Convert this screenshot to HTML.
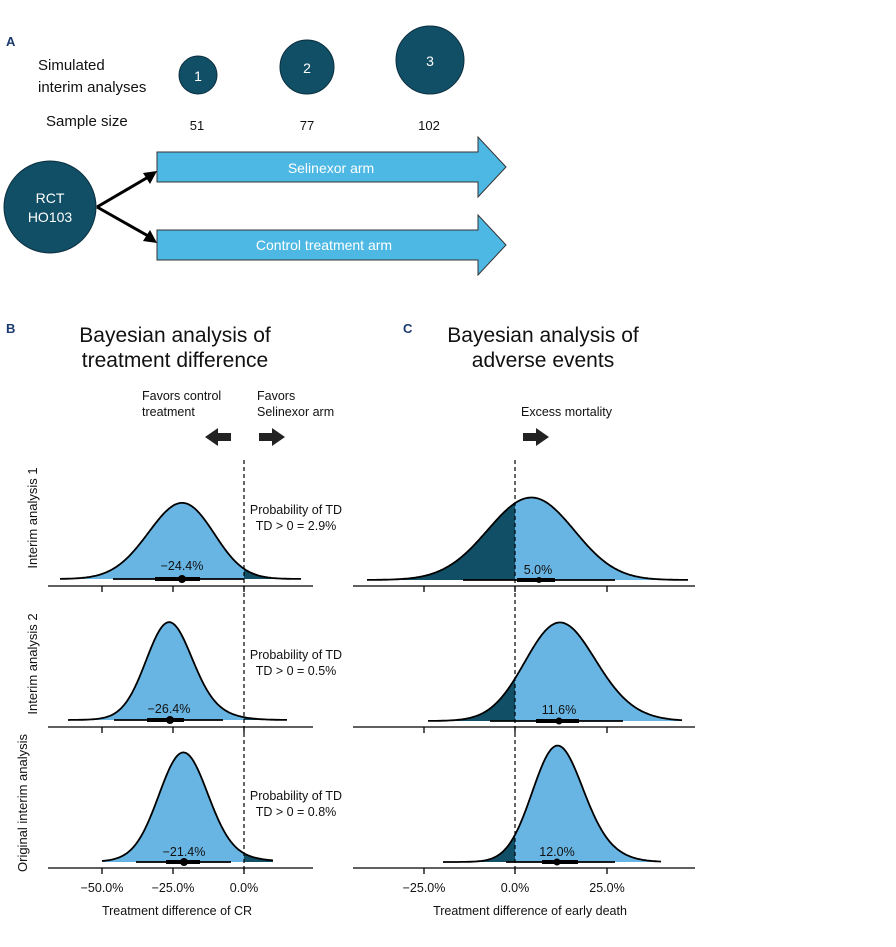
<!DOCTYPE html>
<html><head><meta charset="utf-8">
<style>
html,body{margin:0;padding:0;background:#fff;}
body{width:896px;height:942px;overflow:hidden;font-family:"Liberation Sans",sans-serif;}
</style></head>
<body>
<svg id="s" width="896" height="942" viewBox="0 0 896 942" xmlns="http://www.w3.org/2000/svg" font-family="Liberation Sans, sans-serif">
<!-- Panel A -->
<text x="6" y="46" font-size="13" font-weight="bold" fill="#1a3a6e">A</text>
<text x="38" y="70" font-size="15" fill="#111">Simulated</text>
<text x="38" y="92" font-size="15" fill="#111">interim analyses</text>
<text x="46" y="126" font-size="15" fill="#111">Sample size</text>
<circle cx="198" cy="75" r="19" fill="#114f66" stroke="#0b2f3f" stroke-width="1"/>
<text x="198" y="81" font-size="14" fill="#fff" text-anchor="middle">1</text>
<circle cx="307" cy="67" r="27" fill="#114f66" stroke="#0b2f3f" stroke-width="1"/>
<text x="307" y="73" font-size="14" fill="#fff" text-anchor="middle">2</text>
<circle cx="430" cy="60" r="34" fill="#114f66" stroke="#0b2f3f" stroke-width="1"/>
<text x="430" y="66" font-size="14" fill="#fff" text-anchor="middle">3</text>
<text x="197" y="130" font-size="13" fill="#111" text-anchor="middle">51</text>
<text x="307" y="130" font-size="13" fill="#111" text-anchor="middle">77</text>
<text x="429" y="130" font-size="13" fill="#111" text-anchor="middle">102</text>
<path d="M157,152 H478 V137 L506,167 L478,197 V182 H157 Z" fill="#4db8e4" stroke="#333" stroke-width="1"/>
<text x="331" y="173" font-size="14" fill="#fff" text-anchor="middle">Selinexor arm</text>
<path d="M157,230 H478 V215 L506,245 L478,275 V260 H157 Z" fill="#4db8e4" stroke="#333" stroke-width="1"/>
<text x="324" y="250" font-size="14" fill="#fff" text-anchor="middle">Control treatment arm</text>
<line x1="97" y1="207" x2="150" y2="176" stroke="#000" stroke-width="3"/>
<polygon points="157,171 143,173 150,184" fill="#000"/>
<line x1="97" y1="207" x2="150" y2="237" stroke="#000" stroke-width="3"/>
<polygon points="157,243 150,230 143,241" fill="#000"/>
<circle cx="50" cy="207" r="46" fill="#114f66" stroke="#0b2f3f" stroke-width="1"/>
<text x="50" y="203" font-size="14" fill="#fff" text-anchor="middle">RCT</text>
<text x="50" y="222" font-size="14" fill="#fff" text-anchor="middle">HO103</text>

<!-- Panel B header -->
<text x="6" y="333" font-size="13" font-weight="bold" fill="#1a3a6e">B</text>
<text x="175" y="342" font-size="21" fill="#111" text-anchor="middle">Bayesian analysis of</text>
<text x="175" y="367" font-size="21" fill="#111" text-anchor="middle">treatment difference</text>
<text x="142" y="400" font-size="12.5" fill="#111">Favors control</text>
<text x="142" y="416" font-size="12.5" fill="#111">treatment</text>
<text x="257" y="400" font-size="12.5" fill="#111">Favors</text>
<text x="257" y="416" font-size="12.5" fill="#111">Selinexor arm</text>
<path d="M231,433 H218 V428 L205,437 L218,446 V441 H231 Z" fill="#222"/>
<path d="M259,433 H272 V428 L285,437 L272,446 V441 H259 Z" fill="#222"/>

<!-- Panel C header -->
<text x="403" y="333" font-size="13" font-weight="bold" fill="#1a3a6e">C</text>
<text x="543" y="342" font-size="21" fill="#111" text-anchor="middle">Bayesian analysis of</text>
<text x="543" y="367" font-size="21" fill="#111" text-anchor="middle">adverse events</text>
<text x="521" y="416" font-size="12.5" fill="#111">Excess mortality</text>
<path d="M523,433 H536 V428 L549,437 L536,446 V441 H523 Z" fill="#222"/>

<!-- row labels -->
<text transform="translate(37,518) rotate(-90)" font-size="13" fill="#111" text-anchor="middle">Interim analysis 1</text>
<text transform="translate(37,664) rotate(-90)" font-size="13" fill="#111" text-anchor="middle">Interim analysis 2</text>
<text transform="translate(27,803) rotate(-90)" font-size="13" fill="#111" text-anchor="middle">Original interim analysis</text>

<defs>
<clipPath id="cbR"><rect x="244" y="0" width="200" height="942"/></clipPath>
<clipPath id="ccL"><rect x="300" y="0" width="215" height="942"/></clipPath>
</defs>
<g id="dens"></g>

<!-- axes B -->
<g stroke="#000" stroke-width="1.3">
<line x1="48" y1="586" x2="313" y2="586"/><line x1="48" y1="727" x2="313" y2="727"/><line x1="48" y1="868" x2="313" y2="868"/>
<line x1="102" y1="586" x2="102" y2="592"/><line x1="173" y1="586" x2="173" y2="592"/><line x1="244" y1="586" x2="244" y2="592"/>
<line x1="102" y1="727" x2="102" y2="733"/><line x1="173" y1="727" x2="173" y2="733"/><line x1="244" y1="727" x2="244" y2="733"/>
<line x1="102" y1="868" x2="102" y2="874"/><line x1="173" y1="868" x2="173" y2="874"/><line x1="244" y1="868" x2="244" y2="874"/>
<line x1="353" y1="586" x2="695" y2="586"/><line x1="353" y1="727" x2="695" y2="727"/><line x1="353" y1="868" x2="695" y2="868"/>
<line x1="424" y1="586" x2="424" y2="592"/><line x1="515" y1="586" x2="515" y2="592"/><line x1="607" y1="586" x2="607" y2="592"/>
<line x1="424" y1="727" x2="424" y2="733"/><line x1="515" y1="727" x2="515" y2="733"/><line x1="607" y1="727" x2="607" y2="733"/>
<line x1="424" y1="868" x2="424" y2="874"/><line x1="515" y1="868" x2="515" y2="874"/><line x1="607" y1="868" x2="607" y2="874"/>
</g>
<line x1="244" y1="460" x2="244" y2="874" stroke="#000" stroke-width="1.2" stroke-dasharray="4,3"/>
<line x1="515" y1="460" x2="515" y2="874" stroke="#000" stroke-width="1.2" stroke-dasharray="4,3"/>

<g font-size="12.5" fill="#111" text-anchor="middle">
<text x="102" y="892">−50.0%</text><text x="173" y="892">−25.0%</text><text x="244" y="892">0.0%</text>
<text x="424" y="892">−25.0%</text><text x="515" y="892">0.0%</text><text x="607" y="892">25.0%</text>
<text x="177" y="915">Treatment difference of CR</text>
<text x="530" y="915">Treatment difference of early death</text>
<text x="296" y="514">Probability of TD</text><text x="296" y="530">TD &gt; 0 = 2.9%</text>
<text x="296" y="659">Probability of TD</text><text x="296" y="675">TD &gt; 0 = 0.5%</text>
<text x="296" y="800">Probability of TD</text><text x="296" y="816">TD &gt; 0 = 0.8%</text>
<text x="182" y="570">−24.4%</text><text x="169" y="713">−26.4%</text><text x="184" y="856">−21.4%</text>
<text x="538" y="574">5.0%</text><text x="559" y="714">11.6%</text><text x="557" y="856">12.0%</text>
</g>
</svg>
<script>
var NS="http://www.w3.org/2000/svg",g=document.getElementById("dens");
function mk(t,a){var e=document.createElementNS(NS,t);for(var k in a)e.setAttribute(k,a[k]);g.appendChild(e);return e;}
function dens(o){
 var d="M"+o.x0+","+o.b,l="";
 for(var x=o.x0;x<=o.x1;x+=1){var y=0;o.c.forEach(function(c){y+=c[2]*Math.exp(-0.5*Math.pow((x-c[0])/c[1],2));});
  var py=(o.b-y).toFixed(1);d+=" L"+x+","+py;l+=(l?" L":"M")+x+","+py;}
 d+=" L"+o.x1+","+o.b+" Z";
 mk("path",{d:d,fill:"#68b5e3"});
 mk("path",{d:d,fill:"#114f66","clip-path":"url(#"+o.clip+")"});
 mk("path",{d:l,fill:"none",stroke:"#000","stroke-width":"1.8"});
 mk("line",{x1:o.t[0],y1:o.b,x2:o.t[1],y2:o.b,stroke:"#000","stroke-width":"1.8"});
 mk("line",{x1:o.k[0],y1:o.b,x2:o.k[1],y2:o.b,stroke:"#000","stroke-width":"4"});
 mk("circle",{cx:o.dot,cy:o.b,r:o.r||4,fill:"#000"});
}
dens({x0:60,x1:301,b:579,clip:"cbR",c:[[175,33,58],[195,26,22]],t:[113,244],k:[155,200],dot:182});
dens({x0:68,x1:287,b:720,clip:"cbR",c:[[168,22,80],[180,32,19]],t:[114,223],k:[147,184],dot:170});
dens({x0:102,x1:273,b:862,clip:"cbR",c:[[183,24,100],[195,40,10]],t:[136,231],k:[166,200],dot:184});
dens({x0:367,x1:688,b:580,clip:"ccL",c:[[522,42,60],[550,38,27]],t:[463,615],k:[517,555],dot:539,r:3});
dens({x0:428,x1:682,b:721,clip:"ccL",c:[[555,33,75],[580,38,28]],t:[490,623],k:[536,579],dot:559,r:3.5});
dens({x0:443,x1:661,b:862,clip:"ccL",c:[[555,24,95],[575,30,26]],t:[506,615],k:[542,578],dot:557,r:3.5});
</script>
</body></html>
